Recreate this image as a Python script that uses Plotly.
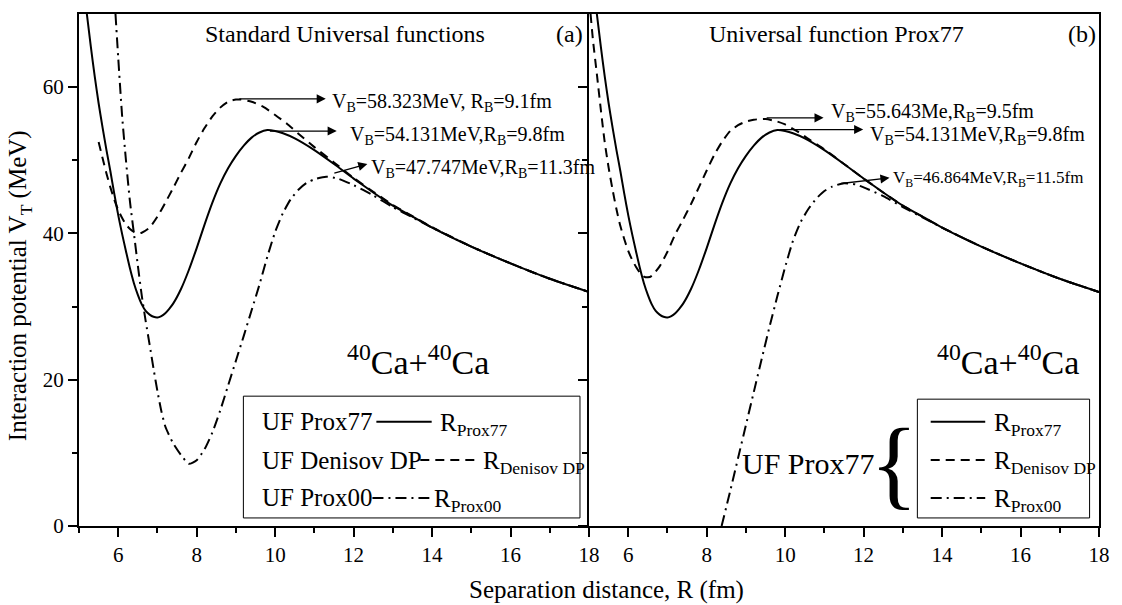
import plotly.graph_objects as go

# ---------------- data ----------------
r_prox77 = [5.2, 5.3, 5.4, 5.5, 5.6, 5.7, 5.8, 5.9, 6.0, 6.1, 6.2, 6.3, 6.4, 6.5, 6.6, 6.7, 6.8, 6.9, 7.0,
            7.1, 7.2, 7.3, 7.4, 7.6, 7.8, 8.0, 8.2, 8.4, 8.6, 8.8, 9.0, 9.2, 9.4, 9.6, 9.8, 10.0, 10.2,
            10.5, 11.0, 11.5, 12.0, 12.5, 13.0, 13.5, 14.0, 15.0, 16.0, 17.0, 18.0]
v_prox77 = [70.0, 65.6, 61.5, 57.8, 54.5, 51.4, 48.5, 45.4, 42.5, 39.9, 37.5, 35.2, 33.2, 31.6, 30.3, 29.4,
            28.9, 28.6, 28.5, 28.7, 29.1, 29.7, 30.4, 32.4, 35.0, 38.0, 41.2, 44.2, 46.8, 48.9, 50.6, 52.0,
            53.1, 53.8, 54.13, 54.0, 53.7, 53.0, 51.4, 49.5, 47.5, 45.6, 43.8, 42.3, 40.8, 38.2, 35.9, 33.8, 32.0]

# panel (a): standard universal functions
r_a_denisov = [5.5, 5.6, 5.7, 5.8, 5.9, 6.0, 6.1, 6.2, 6.3, 6.4, 6.5, 6.6, 6.8, 7.0, 7.2, 7.4, 7.6, 7.8, 8.0,
               8.2, 8.4, 8.6, 8.8, 9.0, 9.1, 9.4, 9.7, 10.0, 10.3, 10.6, 11.0, 11.5, 12.0, 12.5, 13.0, 13.5,
               14.0, 15.0, 16.0, 17.0, 18.0]
v_a_denisov = [52.5, 50.3, 48.2, 46.3, 44.6, 43.2, 42.1, 41.2, 40.6, 40.2, 40.0, 40.1, 40.8, 42.3, 44.2, 46.2,
               48.3, 50.3, 52.5, 54.4, 56.0, 57.2, 58.0, 58.3, 58.32, 58.0, 57.3, 56.2, 55.0, 53.6, 51.8, 49.7,
               47.6, 45.7, 43.9, 42.35, 40.85, 38.2, 35.9, 33.8, 32.0]
r_a_prox00 = [5.93, 6.0, 6.1, 6.2, 6.3, 6.4, 6.5, 6.6, 6.7, 6.8, 6.9, 7.0, 7.1, 7.2, 7.4, 7.6, 7.8, 8.0, 8.2,
              8.4, 8.6, 8.8, 9.0, 9.2, 9.4, 9.6, 9.8, 10.0, 10.2, 10.4, 10.6, 10.8, 11.0, 11.3, 11.6, 12.0,
              12.5, 13.0, 13.5, 14.0, 15.0, 16.0, 17.0, 18.0]
v_a_prox00 = [70.0, 64.0, 56.0, 49.8, 44.3, 40.0, 35.6, 31.5, 28.0, 24.8, 21.5, 18.4, 15.7, 13.6, 11.3, 9.7,
              8.5, 9.0, 10.5, 12.8, 15.8, 19.2, 22.6, 26.0, 29.5, 33.0, 36.8, 40.2, 42.8, 44.7, 46.0, 46.9,
              47.4, 47.75, 47.5, 46.6, 45.2, 43.6, 42.2, 40.8, 38.2, 35.9, 33.8, 32.0]

# panel (b): universal function Prox77 with different radii
r_b_denisov = [5.04, 5.1, 5.2, 5.3, 5.4, 5.5, 5.6, 5.7, 5.8, 5.9, 6.0, 6.1, 6.2, 6.3, 6.4, 6.5, 6.6, 6.8,
               7.0, 7.2, 7.4, 7.6, 7.8, 8.0, 8.2, 8.4, 8.6, 8.8, 9.0, 9.2, 9.5, 9.8, 10.0, 10.3, 10.6, 11.0,
               11.5, 12.0, 12.5, 13.0, 13.5, 14.0, 15.0, 16.0, 17.0, 18.0]
v_b_denisov = [70.0, 66.5, 61.8, 57.0, 52.5, 49.0, 46.0, 43.3, 41.0, 39.2, 37.6, 36.4, 35.4, 34.6, 34.1, 34.0,
               34.2, 35.5, 37.5, 39.9, 41.9, 44.0, 46.3, 48.6, 50.8, 52.6, 54.0, 54.8, 55.3, 55.55, 55.64,
               55.3, 54.9, 54.0, 52.9, 51.5, 49.5, 47.5, 45.6, 43.8, 42.3, 40.8, 38.2, 35.9, 33.8, 32.0]
r_b_prox00 = [8.38, 8.6, 8.8, 9.0, 9.2, 9.4, 9.6, 9.8, 10.0, 10.2, 10.4, 10.6, 10.8, 11.0, 11.2, 11.5, 11.8,
              12.0, 12.5, 13.0, 13.5, 14.0, 15.0, 16.0, 17.0, 18.0]
v_b_prox00 = [0.0, 4.8, 9.3, 13.8, 18.3, 22.8, 27.2, 31.4, 35.4, 39.0, 41.6, 43.4, 44.8, 45.8, 46.4, 46.86,
              46.7, 46.3, 45.1, 43.6, 42.2, 40.8, 38.2, 35.9, 33.8, 32.0]

x_ticks = [6, 8, 10, 12, 14, 16, 18]
x_minor = [5, 7, 9, 11, 13, 15, 17]
y_ticks = [0, 20, 40, 60]
y_minor = [10, 30, 50]

FONT = "Liberation Serif, Times New Roman, serif"
DASH = "9px,6px"
DASHDOT = "11px,5px,2px,5px"

fig = go.Figure()

def add(r, v, dash, xa, ya, name):
    fig.add_trace(go.Scatter(x=r, y=v, mode="lines", name=name, showlegend=False,
                             line=dict(color="black", width=2, dash=dash, shape="spline", smoothing=0.6),
                             xaxis=xa, yaxis=ya))

add(r_prox77, v_prox77, "solid", "x", "y", "UF Prox77")
add(r_a_denisov, v_a_denisov, DASH, "x", "y", "UF Denisov DP")
add(r_a_prox00, v_a_prox00, DASHDOT, "x", "y", "UF Prox00")
add(r_prox77, v_prox77, "solid", "x2", "y2", "R Prox77")
add(r_b_denisov, v_b_denisov, DASH, "x2", "y2", "R Denisov DP")
add(r_b_prox00, v_b_prox00, DASHDOT, "x2", "y2", "R Prox00")

xcommon = dict(range=[5, 18], tickvals=x_ticks, ticks="outside", ticklen=9, tickwidth=2,
               showline=True, linewidth=2, linecolor="black", mirror=True, showgrid=False,
               zeroline=False, tickfont=dict(family=FONT, size=21, color="black"),
               minor=dict(tickvals=x_minor, ticks="outside", ticklen=5, tickwidth=2, tickcolor="black"),
               tickcolor="black")
ycommon = dict(range=[0, 70], tickvals=y_ticks, ticks="outside", ticklen=9, tickwidth=2,
               showline=True, linewidth=2, linecolor="black", showgrid=False,
               zeroline=False, tickfont=dict(family=FONT, size=21, color="black"),
               minor=dict(tickvals=y_minor, ticks="outside", ticklen=5, tickwidth=2, tickcolor="black"),
               tickcolor="black")

fig.update_layout(
    width=1122, height=605,
    margin=dict(l=79, r=12, t=13, b=79),
    paper_bgcolor="white", plot_bgcolor="white",
    font=dict(family=FONT, color="black"),
    xaxis=dict(domain=[0, 0.5], anchor="y", **xcommon),
    xaxis2=dict(domain=[0.5, 1], anchor="y2", **xcommon),
    yaxis=dict(domain=[0, 1], anchor="x", mirror=False, **ycommon),
    yaxis2=dict(domain=[0, 1], anchor="x2", showticklabels=False, mirror=True, **ycommon),
)

ann = []
shapes = []

def txt(x, y, t, size, xr, yr, xanchor="center", **kw):
    ann.append(dict(x=x, y=y, xref=xr, yref=yr, text=t, showarrow=False, xanchor=xanchor,
                    yanchor="middle", font=dict(family=FONT, size=size, color="black"), **kw))

def arrow(x0, y0, x1, y1, xr, yr):
    ann.append(dict(x=x1, y=y1, ax=x0, ay=y0, xref=xr, yref=yr, axref=xr, ayref=yr, text="",
                    showarrow=True, arrowhead=2, arrowsize=1.4, arrowwidth=1.3, arrowcolor="black"))

# axis titles
txt(0.517, -0.125, "Separation distance, R (fm)", 25, "paper", "paper")
txt(-0.058, 0.47, "Interaction potential V<sub>T</sub> (MeV)", 25, "paper", "paper", textangle=-90)

# ---- panel (a) ----
txt(11.77, 67.3, "Standard Universal functions", 24, "x", "y")
txt(17.5, 67.3, "(a)", 24, "x", "y")
arrow(9.05, 58.4, 11.29, 58.4, "x", "y")
txt(11.4, 57.9, "V<sub>B</sub>=58.323MeV, R<sub>B</sub>=9.1fm", 20, "x", "y", xanchor="left")
arrow(9.83, 54.0, 11.57, 54.0, "x", "y")
txt(11.85, 53.4, "V<sub>B</sub>=54.131MeV,R<sub>B</sub>=9.8fm", 20, "x", "y", xanchor="left")
arrow(11.47, 48.2, 12.35, 49.5, "x", "y")
txt(12.4, 48.9, "V<sub>B</sub>=47.747MeV,R<sub>B</sub>=11.3fm", 20, "x", "y", xanchor="left")
txt(13.64, 22.7, "<sup>40</sup>Ca+<sup>40</sup>Ca", 34, "x", "y")

# legend (a)
shapes.append(dict(type="rect", xref="x", yref="y", x0=9.19, x1=17.77, y0=1.1, y1=17.75,
                   line=dict(color="black", width=1), fillcolor="white", layer="below"))
rows_y = [14.24, 9.02, 3.83]
txt(9.62, rows_y[0], "UF Prox77", 25, "x", "y", xanchor="left")
shapes.append(dict(type="line", xref="x", yref="y", x0=12.58, x1=13.99, y0=rows_y[0], y1=rows_y[0],
                   line=dict(color="black", width=2)))
txt(14.14, rows_y[0] - 0.4, "R<sub>Prox77</sub>", 25, "x", "y", xanchor="left")
txt(9.62, rows_y[1], "UF Denisov DP", 25, "x", "y", xanchor="left")
shapes.append(dict(type="line", xref="x", yref="y", x0=13.7, x1=15.2, y0=rows_y[1], y1=rows_y[1],
                   line=dict(color="black", width=2, dash=DASH)))
txt(15.24, rows_y[1] - 0.4, "R<sub>Denisov DP</sub>", 25, "x", "y", xanchor="left")
txt(9.62, rows_y[2], "UF Prox00", 25, "x", "y", xanchor="left")
shapes.append(dict(type="line", xref="x", yref="y", x0=12.48, x1=13.93, y0=rows_y[2], y1=rows_y[2],
                   line=dict(color="black", width=2, dash=DASHDOT)))
txt(14.0, rows_y[2] - 0.4, "R<sub>Prox00</sub>", 25, "x", "y", xanchor="left")

# ---- panel (b) ----
txt(11.31, 67.3, "Universal function Prox77", 24, "x2", "y2")
txt(17.56, 67.3, "(b)", 24, "x2", "y2")
arrow(9.49, 55.8, 10.98, 55.8, "x2", "y2")
txt(11.13, 56.6, "V<sub>B</sub>=55.643Me,R<sub>B</sub>=9.5fm", 20, "x2", "y2", xanchor="left")
arrow(9.82, 54.2, 11.99, 54.2, "x2", "y2")
txt(12.11, 53.4, "V<sub>B</sub>=54.131MeV,R<sub>B</sub>=9.8fm", 20, "x2", "y2", xanchor="left")
arrow(11.39, 46.8, 12.66, 47.6, "x2", "y2")
txt(12.7, 47.5, "V<sub>B</sub>=46.864MeV,R<sub>B</sub>=11.5fm", 17, "x2", "y2", xanchor="left")
txt(15.69, 22.7, "<sup>40</sup>Ca+<sup>40</sup>Ca", 34, "x2", "y2")
txt(10.59, 8.6, "UF Prox77", 30, "x2", "y2")
txt(12.77, 8.5, "{", 100, "x2", "y2")

shapes.append(dict(type="rect", xref="x2", yref="y2", x0=13.37, x1=17.76, y0=1.1, y1=17.34,
                   line=dict(color="black", width=1), fillcolor="white", layer="below"))
for yy, d in zip(rows_y, ["solid", DASH, DASHDOT]):
    shapes.append(dict(type="line", xref="x2", yref="y2", x0=13.71, x1=15.1, y0=yy, y1=yy,
                       line=dict(color="black", width=2, dash=d)))
txt(15.28, rows_y[0] - 0.4, "R<sub>Prox77</sub>", 25, "x2", "y2", xanchor="left")
txt(15.28, rows_y[1] - 0.4, "R<sub>Denisov DP</sub>", 25, "x2", "y2", xanchor="left")
txt(15.28, rows_y[2] - 0.4, "R<sub>Prox00</sub>", 25, "x2", "y2", xanchor="left")

fig.update_layout(annotations=ann, shapes=shapes)
fig.write_html("out.html")
